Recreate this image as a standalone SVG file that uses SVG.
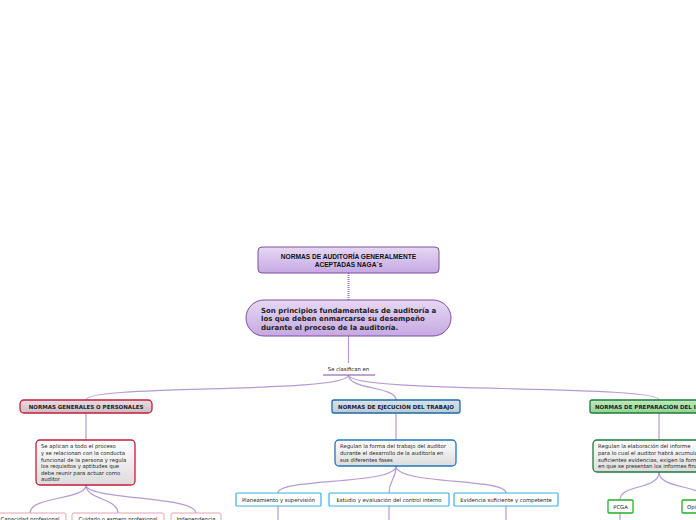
<svg xmlns="http://www.w3.org/2000/svg" width="696" height="520" viewBox="0 0 696 520">
<defs>
<linearGradient id="gPurple" x1="0" y1="0" x2="0" y2="1"><stop offset="0" stop-color="#e6d8f3"/><stop offset="1" stop-color="#c6a9e2"/></linearGradient>
<linearGradient id="gPink" x1="0" y1="0" x2="0" y2="1"><stop offset="0" stop-color="#eadde2"/><stop offset="1" stop-color="#cdbcc4"/></linearGradient>
<linearGradient id="gBlue" x1="0" y1="0" x2="0" y2="1"><stop offset="0" stop-color="#d8e4ee"/><stop offset="1" stop-color="#b7cadb"/></linearGradient>
<linearGradient id="gGreen" x1="0" y1="0" x2="0" y2="1"><stop offset="0" stop-color="#bfeabf"/><stop offset="1" stop-color="#8fd48f"/></linearGradient>
<linearGradient id="gGrey" x1="0" y1="0" x2="0" y2="1"><stop offset="0" stop-color="#ffffff"/><stop offset="1" stop-color="#dcdcdc"/></linearGradient>
</defs>
<style>
.c{fill:none;stroke:#b79ad3;stroke-width:1.2}
.t{font-family:"DejaVu Sans",Verdana,sans-serif;fill:#222}
.b{font-weight:bold}
.s5{font-size:5.3px}
.s55{font-size:5.5px}
.s7{font-size:7px}
.mid{text-anchor:middle}
</style>
<rect width="696" height="520" fill="#ffffff"/>
<g id="connectors">
<path d="M348.5,273 V300" fill="none" stroke="#9a7ab8" stroke-width="2" stroke-dasharray="1,1"/>
<path class="c" d="M348.5,336 V363"/>
<path class="c" d="M348.5,375 C348.5,394 86,384 86,400"/>
<path class="c" d="M348.5,375 C348.5,390 396,386 396,400"/>
<path class="c" d="M348.5,375 C348.5,394 659,384 659,400"/>
<path class="c" d="M86,413 V440"/>
<path class="c" d="M86,485 C86,500 30,496 30,513"/>
<path class="c" d="M86,485 C86,500 118,498 118,513"/>
<path class="c" d="M86,485 C86,500 196,496 196,513"/>
<path class="c" d="M396,413 V440"/>
<path class="c" d="M396,466 C396,485 278,478 278,493"/>
<path class="c" d="M396,466 C396,480 389,480 389,493"/>
<path class="c" d="M396,466 C396,485 506,478 506,493"/>
<path class="c" d="M278,506 V520"/>
<path class="c" d="M389,506 V520"/>
<path class="c" d="M506,506 V520"/>
<path class="c" d="M659,413 V440"/>
<path class="c" d="M659,472 C659,490 620,484 620,500"/>
<path class="c" d="M659,472 C659,490 705,484 705,500"/>
<path class="c" d="M620,513 V520"/>
</g>
<g id="n-root">
<rect x="258" y="247" width="181" height="26" rx="4" fill="url(#gPurple)" stroke="#7e4fa3" stroke-width="1"/>
<text x="348.5" y="259" text-anchor="middle" font-family="Liberation Sans,Arial,sans-serif" font-weight="bold" font-size="6.6" fill="#111">NORMAS DE AUDITORÍA GENERALMENTE</text>
<text x="348.5" y="267" text-anchor="middle" font-family="Liberation Sans,Arial,sans-serif" font-weight="bold" font-size="6.6" fill="#111">ACEPTADAS NAGA´s</text>
</g>
<g id="n-def">
<rect x="246" y="300" width="205" height="36" rx="18" fill="url(#gPurple)" stroke="#7e4fa3" stroke-width="1"/>
<text class="t b s7" x="261" y="313">Son principios fundamentales de auditoría a</text>
<text class="t b s7" x="261" y="321">los que deben enmarcarse su desempeño</text>
<text class="t b s7" x="261" y="330">durante el proceso de la auditoría.</text>
</g>
<g id="n-clasifican">
<text class="t s5 mid" x="348.5" y="371">Se clasifican en</text>
<line x1="323" y1="375" x2="375" y2="375" stroke="#7a4aa8" stroke-width="1.2"/>
</g>
<g id="n-generales">
<rect x="20" y="400" width="132" height="13" rx="4" fill="url(#gPink)" stroke="#c41e3a" stroke-width="1.3"/>
<text class="t b s55 mid" x="86" y="409">NORMAS GENERALES O PERSONALES</text>
</g>
<g id="n-generales-desc">
<rect x="36" y="440" width="99" height="45" rx="4" fill="url(#gGrey)" stroke="#c41e3a" stroke-width="1.3"/>
<text class="t s5" x="41" y="448">Se aplican a todo el proceso</text>
<text class="t s5" x="41" y="455">y se relacionan con la conducta</text>
<text class="t s5" x="41" y="461.5">funcional de la persona y regula</text>
<text class="t s5" x="41" y="468">los requisitos y aptitudes que</text>
<text class="t s5" x="41" y="474.5">debe reunir para actuar como</text>
<text class="t s5" x="41" y="481">auditor</text>
</g>
<g id="n-capacidad">
<rect x="-6" y="513" width="72" height="14" rx="2" fill="#ffffff" stroke="#e8a0b2" stroke-width="1"/>
<text class="t s5 mid" x="30" y="521">Capacidad profesional</text>
</g>
<g id="n-cuidado">
<rect x="72" y="513" width="92" height="14" rx="2" fill="#ffffff" stroke="#e8a0b2" stroke-width="1"/>
<text class="t s5 mid" x="118" y="521">Cuidado o esmero profesional</text>
</g>
<g id="n-independencia">
<rect x="171" y="513" width="50" height="14" rx="2" fill="#ffffff" stroke="#e8a0b2" stroke-width="1"/>
<text class="t s5 mid" x="196" y="521">Independencia</text>
</g>
<g id="n-ejecucion">
<rect x="332" y="400" width="128" height="13" rx="2" fill="url(#gBlue)" stroke="#1f6aa5" stroke-width="1.3"/>
<text class="t b s55 mid" x="396" y="409">NORMAS DE EJECUCIÓN DEL TRABAJO</text>
</g>
<g id="n-ejecucion-desc">
<rect x="335" y="440" width="121" height="26" rx="4" fill="url(#gGrey)" stroke="#1f78c0" stroke-width="1.3"/>
<text class="t s5" x="340" y="448">Regulan la forma del trabajo del auditor</text>
<text class="t s5" x="340" y="455"> durante el desarrollo de la auditoría en</text>
<text class="t s5" x="340" y="461.5">sus diferentes fases</text>
</g>
<g id="n-planeamiento">
<rect x="236" y="493" width="85" height="13" rx="1" fill="#ffffff" stroke="#3ab0e6" stroke-width="1.2"/>
<text class="t s5 mid" x="278.5" y="501.5">Planeamiento y supervisión</text>
</g>
<g id="n-control">
<rect x="329" y="493" width="120" height="13" rx="1" fill="#ffffff" stroke="#3ab0e6" stroke-width="1.2"/>
<text class="t s5 mid" x="389" y="501.5">Estudio y evaluación del control interno</text>
</g>
<g id="n-evidencia">
<rect x="454" y="493" width="104" height="13" rx="1" fill="#ffffff" stroke="#3ab0e6" stroke-width="1.2"/>
<text class="t s5 mid" x="506" y="501.5">Evidencia suficiente y competente</text>
</g>
<g id="n-preparacion">
<rect x="590" y="400" width="138" height="13" rx="2" fill="url(#gGreen)" stroke="#1f7a3a" stroke-width="1.3"/>
<text class="t b s55" x="595" y="409">NORMAS DE PREPARACIÓN DEL INFORME</text>
</g>
<g id="n-preparacion-desc">
<rect x="593" y="440" width="140" height="32" rx="4" fill="url(#gGrey)" stroke="#1f7a3a" stroke-width="1.3"/>
<text class="t s5" x="598" y="448">Regulan la elaboración del informe</text>
<text class="t s5" x="598" y="455">para lo cual el auditor habrá acumulado</text>
<text class="t s5" x="598" y="461.5">suficientes evidencias, exigen la forma</text>
<text class="t s5" x="598" y="468">en que se presentan los informes financieros</text>
</g>
<g id="n-pcga">
<rect x="608" y="500" width="25" height="13" rx="1" fill="#ffffff" stroke="#22b022" stroke-width="1.3"/>
<text class="t s5 mid" x="620.5" y="508.5">PCGA</text>
</g>
<g id="n-opinion">
<rect x="682" y="500" width="40" height="13" rx="1" fill="#ffffff" stroke="#22b022" stroke-width="1.3"/>
<text class="t s5" x="687" y="508.5">Opinión</text>
</g>
</svg>
